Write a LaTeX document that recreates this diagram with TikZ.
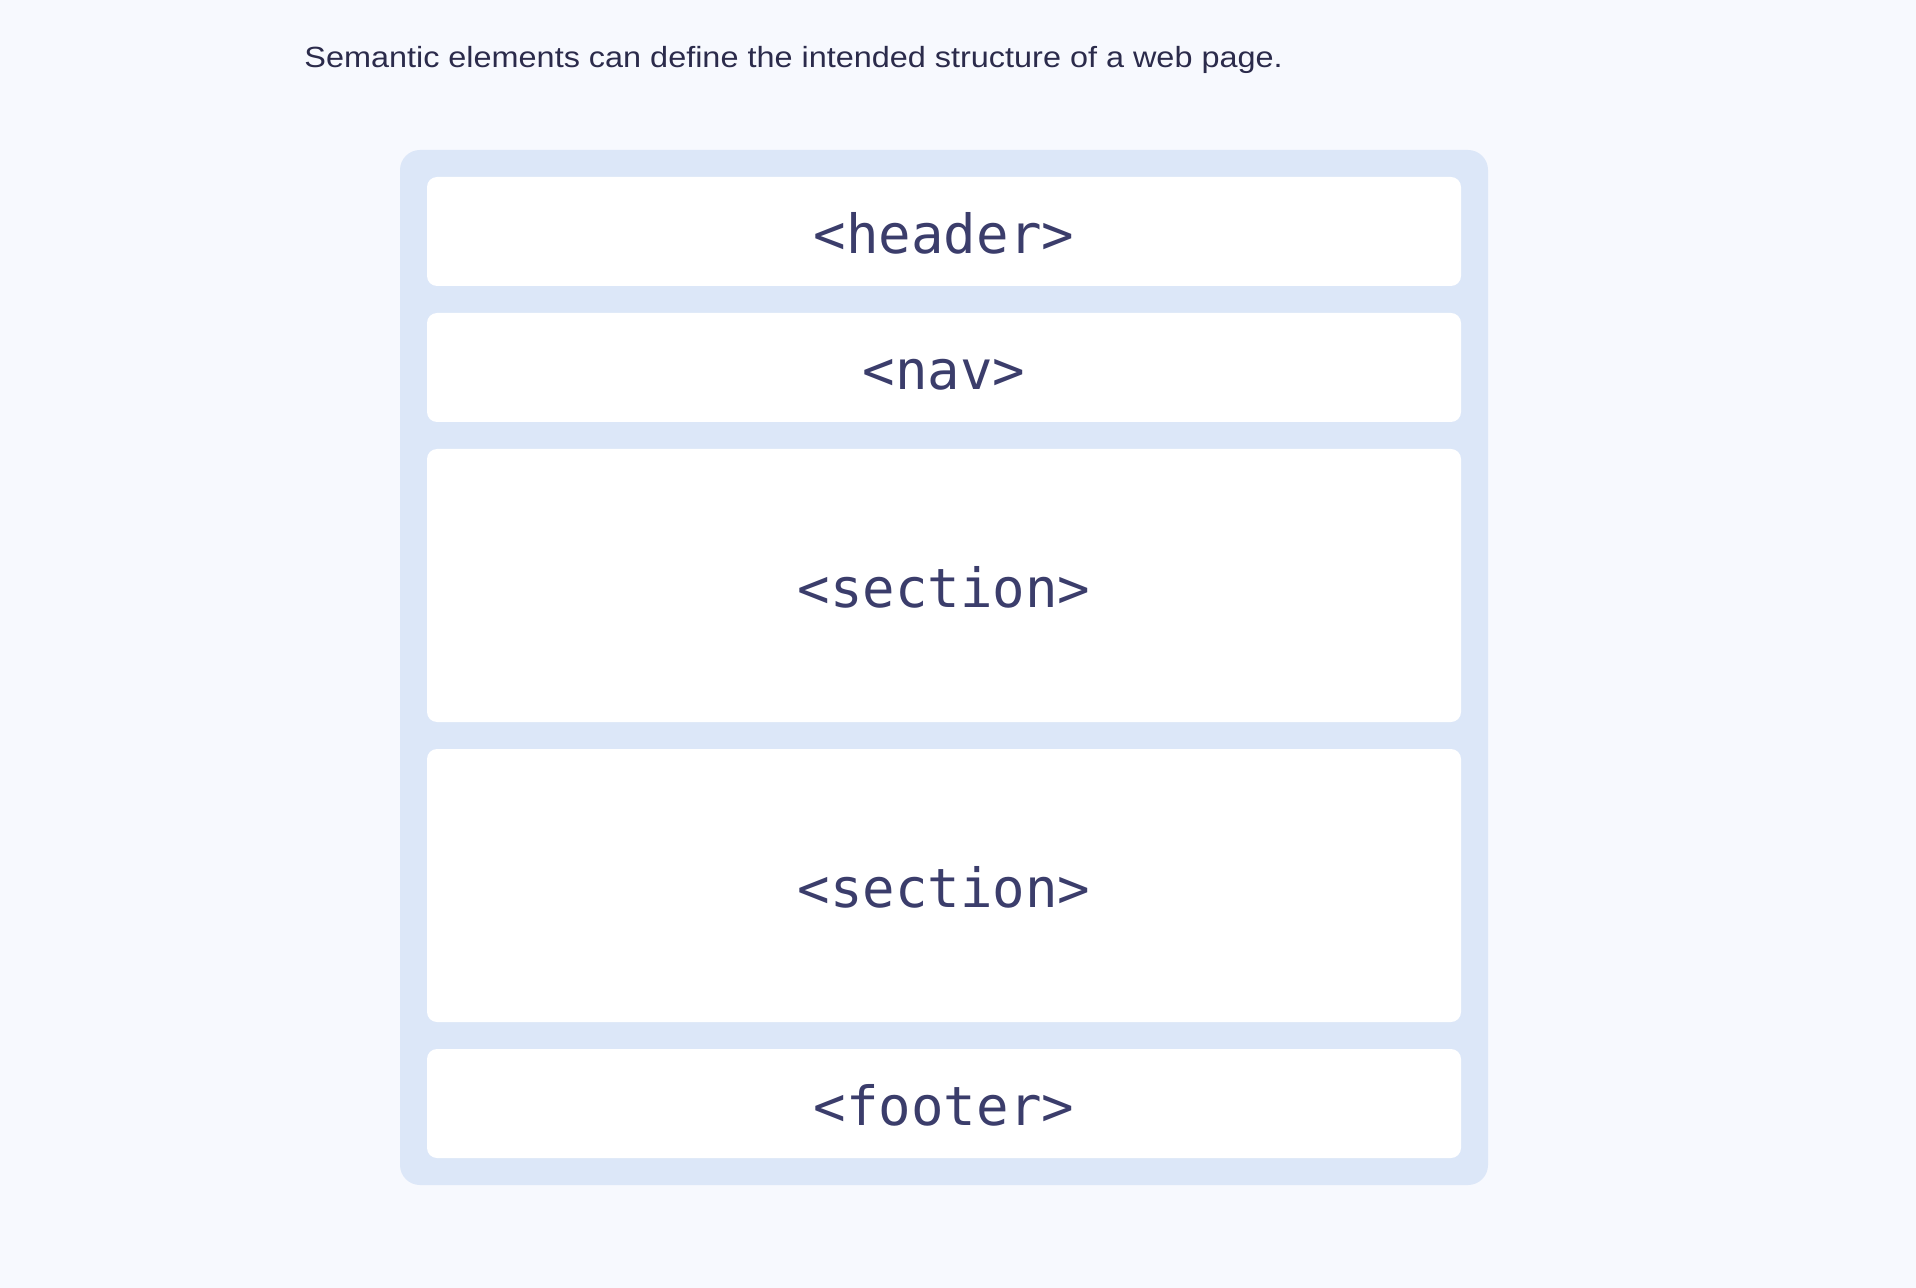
\documentclass[tikz,border=0pt]{standalone}
\usepackage{fontspec}
\setmainfont{Liberation Sans}
\setmonofont{DejaVu Sans Mono}
\newfontfamily\titlefont[FakeStretch=1.11]{Liberation Sans}
\definecolor{pagebg}{HTML}{F7F9FE}
\definecolor{panelbg}{HTML}{DCE7F8}
\definecolor{titletext}{HTML}{2B2B4B}
\definecolor{tagtext}{HTML}{3B3D6B}
\tikzset{
  tagbox/.style={rectangle, fill=white, rounded corners=5pt, inner sep=0pt,
    minimum width=517pt, text=tagtext, text height=22pt, text depth=0pt,
    font=\ttfamily\fontsize{27}{30}\selectfont},
  shortbox/.style={tagbox, minimum height=54.5pt},
  tallbox/.style={tagbox, minimum height=136.5pt}
}
\begin{document}
\begin{tikzpicture}[x=0.5pt, y=-0.5pt]
      \useasboundingbox[fill=pagebg] (0,0) rectangle (1916,1288);
      \node[anchor=base west, inner sep=0pt, text=titletext,
        font=\titlefont\fontsize{14.6}{17}\selectfont] (title) at (304,68)
        {Semantic elements can define the intended structure of a web page.};
      \fill[panelbg, rounded corners=10pt] (400,150) rectangle (1488,1185);
      \draw
        (944,231.5) node[shortbox] (header){<header>}
        (944,367.5) node[shortbox] (nav){<nav>}
        (944,585.5) node[tallbox] (section1){<section>}
        (944,885.5) node[tallbox] (section2){<section>}
        (944,1103.5) node[shortbox] (footer){<footer>};
    \end{tikzpicture}
\end{document}
